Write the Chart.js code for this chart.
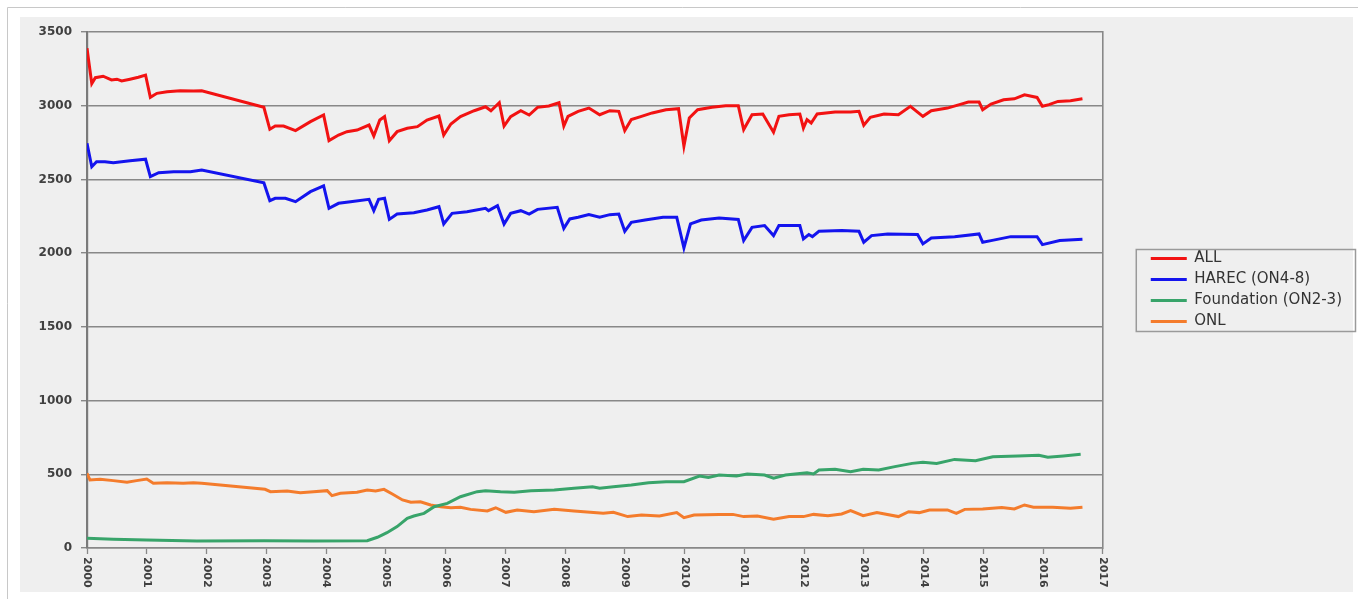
<!DOCTYPE html>
<html>
<head>
<meta charset="utf-8">
<title>Licences</title>
<script src="https://cdn.jsdelivr.net/npm/chart.js@4.4.1/dist/chart.umd.min.js"></script>
<style>
    body { margin: 0; background: #ffffff; }
    #wrap { position: absolute; left: 0; top: 0; width: 1358px; height: 599px; }
</style>
</head>
<body>
<div id="wrap"><canvas id="licenceChart"></canvas></div>
<script>

// =============================
// DATA
// =============================

const yearTicks = [2000, 2001, 2002, 2003, 2004, 2005, 2006, 2007, 2008, 2009, 2010, 2011, 2012, 2013, 2014, 2015, 2016, 2017];

const seriesNames = ["ALL", "HAREC (ON4-8)", "Foundation (ON2-3)", "ONL"];

const allDates = [2000.00, 2000.08, 2000.14, 2000.27, 2000.41, 2000.50, 2000.58, 2000.72, 2000.86, 2000.98,
    2001.06, 2001.17, 2001.34, 2001.56, 2001.78, 2001.92, 2002.96, 2003.06, 2003.15, 2003.29,
    2003.49, 2003.74, 2003.96, 2004.05, 2004.21, 2004.35, 2004.52, 2004.72, 2004.80, 2004.90,
    2004.98, 2005.06, 2005.19, 2005.36, 2005.53, 2005.69, 2005.89, 2005.97, 2006.09, 2006.25,
    2006.48, 2006.67, 2006.76, 2006.90, 2006.98, 2007.09, 2007.26, 2007.40, 2007.54, 2007.73,
    2007.90, 2007.98, 2008.05, 2008.22, 2008.40, 2008.58, 2008.75, 2008.90, 2009.00, 2009.11,
    2009.28, 2009.46, 2009.69, 2009.90, 2009.99, 2010.08, 2010.22, 2010.46, 2010.69, 2010.90,
    2010.99, 2011.13, 2011.31, 2011.49, 2011.58, 2011.75, 2011.93, 2011.99, 2012.05, 2012.12,
    2012.22, 2012.52, 2012.78, 2012.92, 2013.00, 2013.11, 2013.34, 2013.58, 2013.78, 2013.99,
    2014.13, 2014.40, 2014.63, 2014.75, 2014.93, 2014.99, 2015.13, 2015.34, 2015.52, 2015.69,
    2015.90, 2015.99, 2016.10, 2016.25, 2016.46, 2016.66];
const allValues = [3390, 3150, 3190, 3200, 3175, 3180, 3168, 3180, 3193, 3208,
    3057, 3084, 3095, 3102, 3100, 3102, 2989, 2840, 2862, 2862,
    2831, 2892, 2937, 2763, 2801, 2824, 2835, 2869, 2795, 2903,
    2926, 2763, 2824, 2847, 2858, 2903, 2930, 2801, 2876, 2926,
    2966, 2993, 2966, 3020, 2862, 2926, 2966, 2937, 2989, 2998,
    3020, 2862, 2928, 2962, 2984, 2939, 2966, 2962, 2831, 2906,
    2928, 2951, 2973, 2980, 2726, 2917, 2973, 2989, 3000, 3000,
    2838, 2939, 2944, 2820, 2928, 2939, 2944, 2849, 2906, 2883,
    2944, 2957, 2957, 2962, 2867, 2921, 2944, 2939, 2996, 2928,
    2966, 2984, 3011, 3025, 3025, 2973, 3011, 3040, 3047, 3074,
    3056, 2996, 3007, 3029, 3034, 3047];

const harecDates = [2000.00, 2000.08, 2000.16, 2000.30, 2000.44, 2000.72, 2000.98, 2001.06, 2001.20, 2001.45,
    2001.73, 2001.92, 2002.96, 2003.06, 2003.15, 2003.32, 2003.49, 2003.74, 2003.96, 2004.05,
    2004.21, 2004.41, 2004.72, 2004.80, 2004.88, 2004.98, 2005.06, 2005.19, 2005.47, 2005.69,
    2005.89, 2005.97, 2006.11, 2006.36, 2006.67, 2006.72, 2006.87, 2006.98, 2007.09, 2007.26,
    2007.40, 2007.54, 2007.87, 2007.98, 2008.08, 2008.22, 2008.40, 2008.58, 2008.75, 2008.90,
    2009.00, 2009.11, 2009.34, 2009.64, 2009.87, 2009.99, 2010.10, 2010.28, 2010.58, 2010.90,
    2010.99, 2011.13, 2011.34, 2011.49, 2011.58, 2011.93, 2011.99, 2012.08, 2012.14, 2012.25,
    2012.63, 2012.92, 2013.00, 2013.13, 2013.40, 2013.90, 2013.99, 2014.13, 2014.52, 2014.93,
    2014.99, 2015.13, 2015.46, 2015.90, 2015.99, 2016.28, 2016.66];
const harecValues = [2745, 2586, 2620, 2620, 2613, 2627, 2637, 2519, 2546, 2552,
    2552, 2564, 2478, 2356, 2372, 2372, 2349, 2417, 2457, 2304,
    2338, 2349, 2365, 2288, 2365, 2372, 2229, 2265, 2274, 2293,
    2315, 2198, 2270, 2281, 2304, 2288, 2322, 2198, 2270, 2288,
    2265, 2297, 2311, 2168, 2232, 2243, 2261, 2243, 2261, 2265,
    2148, 2209, 2225, 2243, 2243, 2036, 2198, 2225, 2238, 2229,
    2085, 2175, 2187, 2119, 2187, 2187, 2097, 2126, 2112, 2148,
    2153, 2148, 2074, 2119, 2130, 2126, 2063, 2103, 2112, 2130,
    2074, 2085, 2112, 2112, 2058, 2085, 2095];

const foundationDates = [2000.00, 2000.44, 2001.00, 2001.84, 2002.96, 2003.79, 2004.69, 2004.86, 2005.02, 2005.19,
    2005.36, 2005.47, 2005.64, 2005.81, 2006.03, 2006.25, 2006.53, 2006.67, 2006.92, 2007.15,
    2007.43, 2007.82, 2008.15, 2008.46, 2008.58, 2008.81, 2009.11, 2009.40, 2009.69, 2009.99,
    2010.25, 2010.40, 2010.58, 2010.87, 2011.05, 2011.34, 2011.49, 2011.69, 2012.05, 2012.16,
    2012.25, 2012.52, 2012.78, 2012.99, 2013.25, 2013.52, 2013.81, 2013.99, 2014.22, 2014.52,
    2014.87, 2015.16, 2015.58, 2015.93, 2016.08, 2016.34, 2016.63];
const foundationValues = [66, 59, 54, 47, 50, 47, 50, 73, 104, 145,
    201, 217, 235, 280, 303, 348, 382, 389, 382, 378,
    389, 393, 405, 416, 405, 416, 427, 443, 450, 450,
    488, 479, 495, 488, 502, 495, 473, 495, 511, 502,
    529, 534, 518, 534, 529, 552, 574, 581, 574, 601,
    592, 619, 624, 629, 615, 624, 636];

const onlDates = [2000.00, 2000.05, 2000.22, 2000.44, 2000.67, 2000.83, 2001.00, 2001.11, 2001.34, 2001.61,
    2001.78, 2001.92, 2002.98, 2003.07, 2003.35, 2003.57, 2003.79, 2004.02, 2004.10, 2004.24,
    2004.52, 2004.69, 2004.83, 2004.97, 2005.11, 2005.28, 2005.42, 2005.58, 2005.75, 2005.92,
    2006.09, 2006.25, 2006.42, 2006.70, 2006.84, 2007.01, 2007.20, 2007.48, 2007.82, 2008.15,
    2008.64, 2008.81, 2009.05, 2009.28, 2009.58, 2009.87, 2009.99, 2010.16, 2010.58, 2010.81,
    2010.99, 2011.22, 2011.49, 2011.75, 2011.99, 2012.16, 2012.40, 2012.63, 2012.78, 2012.99,
    2013.22, 2013.58, 2013.75, 2013.93, 2014.10, 2014.40, 2014.55, 2014.69, 2014.99, 2015.31,
    2015.52, 2015.69, 2015.84, 2016.16, 2016.46, 2016.66];
const onlValues = [507, 461, 466, 457, 446, 457, 468, 439, 443, 439,
    443, 439, 398, 382, 387, 375, 382, 389, 355, 371,
    378, 393, 387, 398, 366, 326, 310, 314, 292, 280,
    273, 276, 262, 251, 273, 242, 258, 246, 262, 251,
    235, 242, 213, 224, 217, 240, 206, 224, 228, 228,
    213, 217, 195, 213, 213, 228, 219, 231, 253, 219,
    240, 213, 246, 240, 258, 258, 235, 262, 265, 274,
    265, 292, 276, 276, 269, 276];


// =============================
// HELPERS
// =============================

function toPoints(dates, values) {
    return dates.map((d, i) => ({ x: d, y: values[i] }));
}

function lineSet(label, dates, values, color) {
    return {
        label: label,
        data: toPoints(dates, values),
        borderColor: color,
        backgroundColor: color,
        borderWidth: 3,
        pointRadius: 0,
        tension: 0,
        fill: false
    };
}


// =============================
// PLUGINS
// =============================

// white page, thin frame and grey panel behind everything
const panelPlugin = {
    id: "panel",
    beforeDraw(chart) {
        const ctx = chart.ctx;
        ctx.save();
        ctx.fillStyle = "#ffffff";
        ctx.fillRect(0, 0, chart.width, chart.height);
        ctx.fillStyle = "#efefef";
        ctx.fillRect(20, 17, 1333, 575);
        ctx.strokeStyle = "#c8c8c8";
        ctx.lineWidth = 1;
        ctx.beginPath();
        ctx.moveTo(7.5, chart.height);
        ctx.lineTo(7.5, 7.5);
        ctx.lineTo(chart.width, 7.5);
        ctx.stroke();
        ctx.restore();
    }
};

// year labels written top-to-bottom, and a box round the legend
const decorPlugin = {
    id: "decor",
    afterDraw(chart) {
        const ctx = chart.ctx;
        const xScale = chart.scales.x;

        ctx.save();
        ctx.fillStyle = "#404040";
        ctx.font = "bold 11px 'DejaVu Sans'";
        ctx.textAlign = "left";
        ctx.textBaseline = "middle";
        xScale.ticks.forEach(t => {
            const px = xScale.getPixelForValue(t.value);
            ctx.save();
            ctx.translate(px, xScale.top + 9);
            ctx.rotate(Math.PI / 2);
            ctx.fillText(String(t.value), 0, 0);
            ctx.restore();
        });

        const legend = chart.legend;
        const boxes = legend.legendHitBoxes;
        if (boxes && boxes.length) {
            const first = boxes[0];
            const last = boxes[boxes.length - 1];
            const top = first.top - 2;
            const bottom = last.top + last.height + 2;
            const left = legend.left - 9;
            ctx.strokeStyle = "#9a9a9a";
            ctx.lineWidth = 1.5;
            ctx.strokeRect(left + 0.5, top + 0.5, 1355 - left, bottom - top);
        }
        ctx.restore();
    }
};


// =============================
// CHART
// =============================

Chart.defaults.font.family = "'DejaVu Sans', sans-serif";

const gridGrey = "#888888";

new Chart(document.getElementById("licenceChart"), {
    type: "line",
    data: {
        datasets: [
            lineSet(seriesNames[0], allDates, allValues, "#f21212"),
            lineSet(seriesNames[1], harecDates, harecValues, "#1414ee"),
            lineSet(seriesNames[2], foundationDates, foundationValues, "#38a46a"),
            lineSet(seriesNames[3], onlDates, onlValues, "#f47c2c")
        ]
    },
    options: {
        responsive: true,
        maintainAspectRatio: false,
        animation: false,
        layout: {
            padding: { left: 20, top: 32, right: 6, bottom: 0 }
        },
        plugins: {
            tooltip: { enabled: false },
            legend: {
                position: "right",
                fullSize: false,
                labels: {
                    usePointStyle: true,
                    pointStyle: "line",
                    pointStyleWidth: 36,
                    boxWidth: 36,
                    padding: 6,
                    color: "#333333",
                    font: { size: 15 }
                }
            }
        },
        scales: {
            x: {
                type: "linear",
                min: yearTicks[0],
                max: yearTicks[yearTicks.length - 1],
                afterBuildTicks: scale => {
                    scale.ticks = yearTicks.map(v => ({ value: v }));
                },
                afterFit: scale => {
                    scale.height = 51;
                },
                ticks: {
                    autoSkip: false,
                    minRotation: 90,
                    maxRotation: 90,
                    color: "rgba(0,0,0,0)",
                    font: { size: 11 },
                    callback: v => String(v)
                },
                grid: {
                    color: "rgba(0,0,0,0)",
                    tickColor: gridGrey,
                    tickLength: 6,
                    tickWidth: 1.3
                },
                border: { color: gridGrey, width: 1.6 }
            },
            y: {
                min: 0,
                max: 3500,
                afterFit: scale => {
                    scale.width = 67;
                },
                ticks: {
                    stepSize: 500,
                    padding: 9,
                    color: "#404040",
                    font: { size: 12, weight: "bold" },
                    callback: v => String(v)
                },
                grid: {
                    color: gridGrey,
                    lineWidth: 1.4,
                    tickLength: 6
                },
                border: { color: "#7a7a7a", width: 2.2 }
            },
            edge: {
                position: "right",
                min: 0,
                max: 3500,
                afterFit: scale => {
                    scale.width = 42;
                },
                ticks: { display: false },
                grid: { display: false },
                border: { color: gridGrey, width: 1.6 }
            }
        }
    },
    plugins: [panelPlugin, decorPlugin]
});

</script>
</body>
</html>
